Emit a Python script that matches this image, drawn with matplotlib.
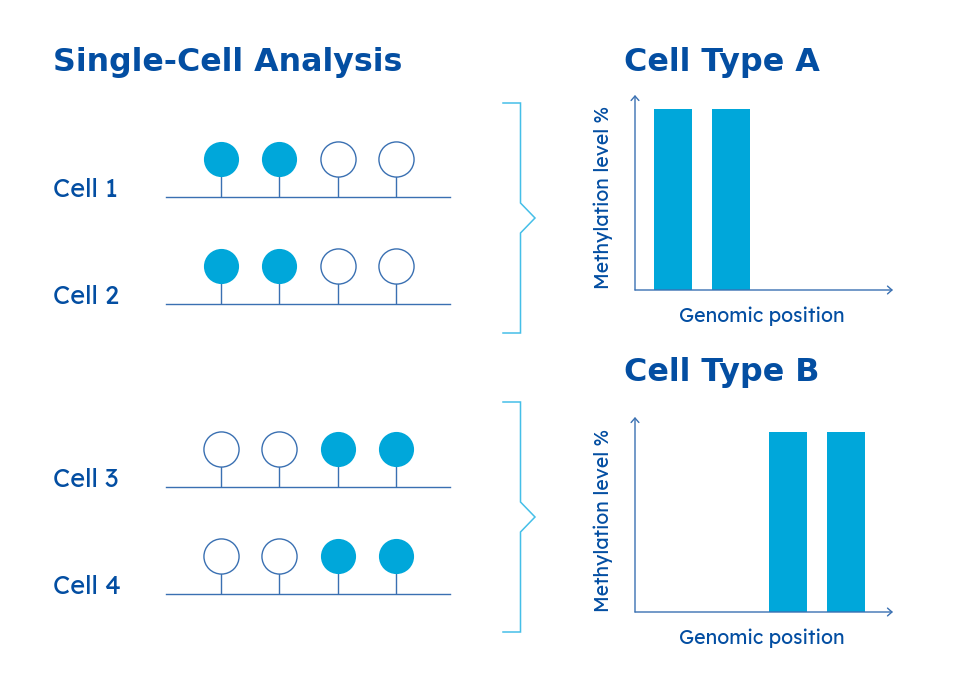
# plot.py
# Single-cell methylation sketch: four cells on the left, two cell type bar charts on the right

import matplotlib
matplotlib.use("Agg")
import matplotlib.pyplot as plt

# -------------------------------
# Data
# -------------------------------
sites = [1, 2, 3, 4]
cell_names = ["Cell 1", "Cell 2", "Cell 3", "Cell 4"]
cell_1 = [1, 1, 0, 0]
cell_2 = [1, 1, 0, 0]
cell_3 = [0, 0, 1, 1]
cell_4 = [0, 0, 1, 1]
type_a_levels = [100, 100, 0, 0]
type_b_levels = [0, 0, 100, 100]

W, H = 958, 697
DARK = "#034ea2"
LINE = "#3a70b2"
CYAN = "#00a7da"
BRACKET = "#45bfe8"
LABEL_FONT = ["Lexend", "Open Sans", "DejaVu Sans"]

plt.rcParams["font.family"] = ["DejaVu Sans"]

fig = plt.figure(figsize=(W / 100, H / 100), dpi=100, facecolor="white")


def px_axes(left, top, right, bottom):
    # axes placed by pixel edges, y measured from the top of the image
    ax = fig.add_axes([left / W, 1 - bottom / H, (right - left) / W, (bottom - top) / H])
    ax.patch.set_alpha(0)
    return ax


# overlay in image pixels for the headings and brackets
overlay = px_axes(0, 0, W, H)
overlay.set_xlim(0, W)
overlay.set_ylim(H, 0)
overlay.axis("off")

# -------------------------------
# Lollipop rows
# -------------------------------
cells = [cell_1, cell_2, cell_3, cell_4]
baselines = [197, 304, 487, 594]
label_y = [190, 297, 480, 587]

for name, states, base, ly in zip(cell_names, cells, baselines, label_y):
    ax = px_axes(166, base - 60, 450, base)
    ax.set_xlim(0.057, 4.928)
    ax.set_ylim(0, 60 / 38.5)
    ax.axis("off")
    ax.axhline(0, color=LINE, lw=1.0, clip_on=False)
    ax.vlines(sites, 0, 1, color=LINE, lw=1.0)
    for s, state in zip(sites, states):
        if state:
            ax.scatter(s, 1, s=640, color=CYAN, linewidths=0, zorder=3, clip_on=False)
        else:
            ax.scatter(s, 1, s=640, facecolor="white", edgecolor=LINE,
                       linewidths=1.0, zorder=3, clip_on=False)
    overlay.text(53, ly, name, color=DARK, fontsize=18.3, family=LABEL_FONT,
                 va="center", ha="left")

# -------------------------------
# Bar charts
# -------------------------------
def bar_chart(levels, top, base):
    ax = px_axes(635, top, 893, base)
    ax.bar(sites, levels, width=0.659, color=CYAN)
    ax.set_xlim(0.341, 4.815)
    ax.set_ylim(0, 100 * (base - top) / (base - top - 14.5))
    ax.set_xticks([])
    ax.set_yticks([])
    for side in ax.spines:
        ax.spines[side].set_visible(False)
    # axis lines with open arrow heads at the ends
    arrow = dict(arrowstyle="->,head_length=0.4,head_width=0.35", color=LINE, lw=1.0,
                 mutation_scale=8, shrinkA=0, shrinkB=0)
    ax.annotate("", xy=(1, 0), xytext=(0, 0), xycoords="axes fraction", arrowprops=arrow)
    ax.annotate("", xy=(0, 1), xytext=(0, 0), xycoords="axes fraction", arrowprops=arrow)
    return ax


bar_chart(type_a_levels, 95, 290)
bar_chart(type_b_levels, 417, 612)

for x_mid, y_mid in [(603, 197), (603, 520)]:
    overlay.text(x_mid, y_mid, "Methylation level %", color=DARK, fontsize=14.0,
                 family=LABEL_FONT, rotation=90, va="center", ha="center")
for y_mid in [316, 638]:
    overlay.text(762, y_mid, "Genomic position", color=DARK, fontsize=14.15,
                 family=LABEL_FONT, va="center", ha="center")

# -------------------------------
# Brackets
# -------------------------------
for top, notch, bottom in [(103, 203, 333), (402, 502, 632)]:
    overlay.plot([503, 520.5, 520.5, 535, 520.5, 520.5, 503],
                 [top, top, notch, notch + 15, notch + 30, bottom, bottom],
                 color=BRACKET, lw=1.1, solid_joinstyle="miter")

# -------------------------------
# Headings
# -------------------------------
overlay.text(53, 71, "Single-Cell Analysis", color=DARK, fontsize=22.8,
             fontweight="bold", va="baseline", ha="left")
overlay.text(624, 71, "Cell Type A", color=DARK, fontsize=22.9,
             fontweight="bold", va="baseline", ha="left")
overlay.text(624, 381, "Cell Type B", color=DARK, fontsize=22.9,
             fontweight="bold", va="baseline", ha="left")

fig.savefig("out.png", dpi=100, facecolor="white")
